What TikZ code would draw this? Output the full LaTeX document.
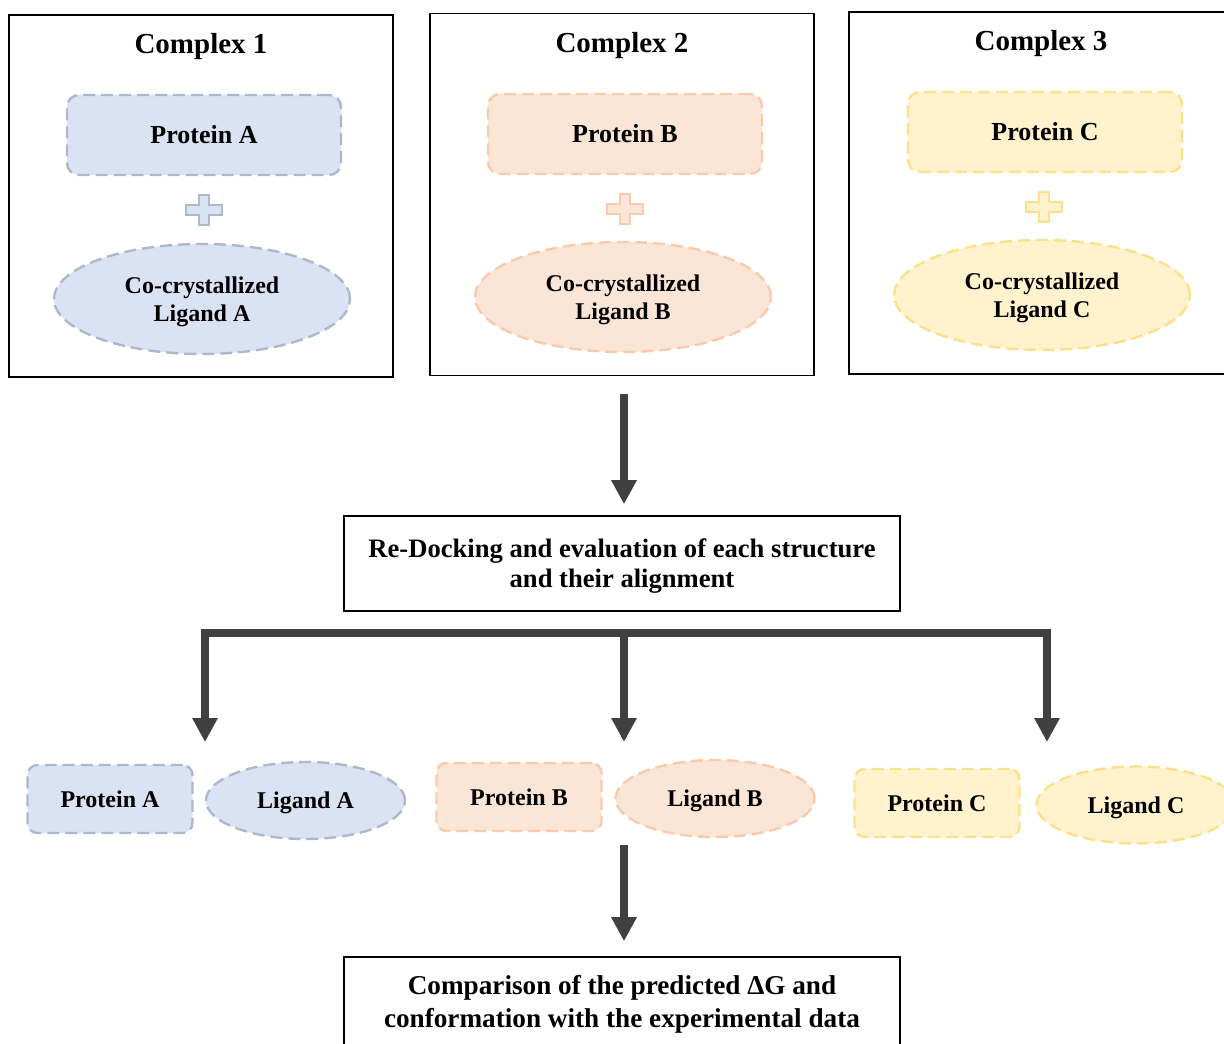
\documentclass[tikz,border=0pt]{standalone}
\usepackage{fontspec}
\setmainfont{Liberation Serif}
\usetikzlibrary{shapes.geometric,arrows.meta}
\definecolor{blueFill}{HTML}{DAE3F3}
\definecolor{blueLine}{HTML}{ADB9CA}
\definecolor{orangeFill}{HTML}{FBE5D6}
\definecolor{orangeLine}{HTML}{F8CBAD}
\definecolor{yellowFill}{HTML}{FFF2CC}
\definecolor{yellowLine}{HTML}{FFE08A}
\definecolor{arrowGray}{HTML}{404040}

\begin{document}
\begin{tikzpicture}[x=0.5pt,y=-0.5pt,
  complexbox/.style={draw=black,line width=0.8pt,minimum width=192pt,minimum height=181pt,inner sep=0pt},
  complextitle/.style={font=\fontsize{14.5}{17}\selectfont\bfseries},
  dashline/.style={dash pattern=on 6pt off 3pt,line width=1.2pt},
  protbig/.style={dashline,rounded corners=6pt,minimum width=137pt,minimum height=40pt,inner sep=0pt,font=\fontsize{13}{15}\selectfont\bfseries},
  ligbig/.style={dashline,ellipse,minimum width=148pt,minimum height=55pt,inner sep=0pt,align=center,text depth=-2.4pt,font=\fontsize{12}{14}\selectfont\bfseries},
  protsmall/.style={dashline,rounded corners=5pt,minimum width=82.5pt,minimum height=34pt,inner sep=0pt,font=\fontsize{12}{14}\selectfont\bfseries},
  ligsmall/.style={dashline,ellipse,minimum width=99.5pt,minimum height=38.5pt,inner sep=0pt,text depth=-1pt,font=\fontsize{12}{14}\selectfont\bfseries},
  stepbox/.style={draw=black,line width=0.8pt,minimum width=278pt,inner sep=0pt,align=center},
  flow/.style={draw=arrowGray,line width=4pt,-{Triangle[width=12pt,length=12pt]}},
  blueset/.style={fill=blueFill,draw=blueLine},
  orangeset/.style={fill=orangeFill,draw=orangeLine},
  yellowset/.style={fill=yellowFill,draw=yellowLine},
  plussign/.pic={\path[pic actions] (-18,-5) -- (-5,-5) -- (-5,-15) -- (5,-15) -- (5,-5) -- (18,-5) -- (18,5) -- (5,5) -- (5,15) -- (-5,15) -- (-5,5) -- (-18,5) -- cycle;}
]
\clip (0,0) rectangle (1224,1043);
\fill[white] (0,0) rectangle (1224,1043);
%Complex 1
\node[complexbox] (cpx1) at (201,196) {};
\node[complextitle] (title1) at (201,47) {Complex 1};
\node[protbig,blueset] (protA) at (204,135) {Protein A};
\pic[blueset,line width=1.2pt] (plusA) at (204,210) {plussign};
\node[ligbig,blueset] (ligA) at (202,299) {Co-crystallized\\Ligand A};
%Complex 2
\node[complexbox] (cpx2) at (622,194.5) {};
\node[complextitle] (title2) at (622,46) {Complex 2};
\node[protbig,orangeset] (protB) at (625,134) {Protein B};
\pic[orangeset,line width=1.2pt] (plusB) at (625,209) {plussign};
\node[ligbig,orangeset] (ligB) at (623,297) {Co-crystallized\\Ligand B};
%Complex 3
\node[complexbox] (cpx3) at (1041,193) {};
\node[complextitle] (title3) at (1041,44) {Complex 3};
\node[protbig,yellowset] (protC) at (1045,132) {Protein C};
\pic[yellowset,line width=1.2pt] (plusC) at (1044,207) {plussign};
\node[ligbig,yellowset] (ligC) at (1042,295) {Co-crystallized\\Ligand C};
%Re-docking
\node[stepbox,minimum height=47.5pt,text depth=-3.1pt,font=\fontsize{13.3}{15}\selectfont\bfseries] (redock) at (622,563.5)
  {Re-Docking and evaluation of each structure\\and their alignment};
\draw[flow,shorten <=9pt,shorten >=5.5pt] (cpx2.south -| 624,0) -- (redock.north -| 624,0);
%Branches
\coordinate (split) at (624,633);
\coordinate (toA) at (205,742);
\coordinate (toB) at (624,742);
\coordinate (toC) at (1047,742);
\draw[flow,{Triangle[width=12pt,length=12pt]}-{Triangle[width=12pt,length=12pt]}] (toA) -- (toA |- split) -- (toC |- split) -- (toC);
\draw[flow] (split) -- (toB);
%Re-docked pairs
\node[protsmall,blueset] (dockProtA) at (110,799) {Protein A};
\node[ligsmall,blueset] (dockLigA) at (305.5,800.5) {Ligand A};
\node[protsmall,orangeset] (dockProtB) at (519,797) {Protein B};
\node[ligsmall,orangeset] (dockLigB) at (715,798.5) {Ligand B};
\node[protsmall,yellowset] (dockProtC) at (937,803) {Protein C};
\node[ligsmall,yellowset] (dockLigC) at (1136,805) {Ligand C};
%Comparison
\node[stepbox,minimum height=47pt,font=\fontsize{13.6}{16.5}\selectfont\bfseries] (compare) at (622,1004)
  {Comparison of the predicted ΔG and\\conformation with the experimental data};
\coordinate (joinB) at (624,845);
\draw[flow,shorten >=7.5pt] (joinB) -- (compare.north -| joinB);
\end{tikzpicture}
\end{document}
